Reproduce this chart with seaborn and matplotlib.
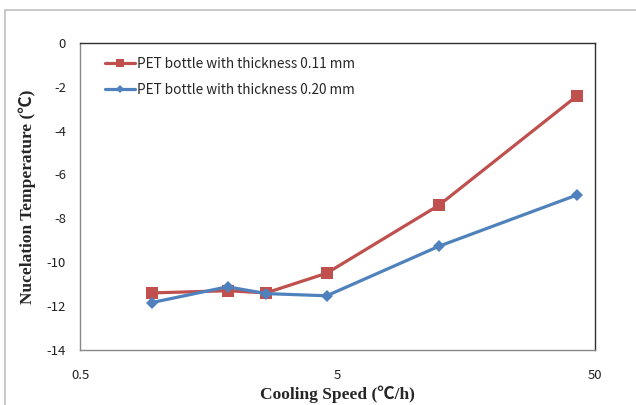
import pandas as pd
import matplotlib
matplotlib.use("Agg")
import matplotlib.pyplot as plt
from matplotlib.patches import Rectangle
from matplotlib.ticker import FixedLocator, FixedFormatter, NullFormatter
import seaborn as sns

# data
speed_thin = [0.95, 1.87, 2.64, 4.54, 12.4, 42.5]
temp_thin = [-11.4, -11.3, -11.4, -10.5, -7.4, -2.43]
speed_thick = [0.95, 1.87, 2.64, 4.54, 12.4, 42.5]
temp_thick = [-11.84, -11.12, -11.43, -11.53, -9.27, -6.94]
series_names = ["PET bottle with thickness 0.11 mm", "PET bottle with thickness 0.20 mm"]

df = pd.concat([
    pd.DataFrame({"speed": speed_thin, "temp": temp_thin, "series": series_names[0]}),
    pd.DataFrame({"speed": speed_thick, "temp": temp_thick, "series": series_names[1]}),
])

sns.set_style("white")
plt.rcParams["axes.unicode_minus"] = False
plt.rcParams["font.family"] = ["Noto Sans CJK KR", "DejaVu Sans"]

fig = plt.figure(figsize=(6.36, 4.05), dpi=100)
ax = fig.add_axes([80 / 636, 55 / 405, 515 / 636, 307.3 / 405])

# outer chart border (Excel chart area)
fig.patches.append(Rectangle((5 / 636, -0.1), 1.2, (395 / 405) + 0.1,
                             transform=fig.transFigure, fill=False,
                             edgecolor="#c0c0c0", linewidth=1.2))

palette = {series_names[0]: "#C0504D", series_names[1]: "#4F81BD"}
sns.lineplot(data=df, x="speed", y="temp", hue="series", style="series",
             markers={series_names[0]: "s", series_names[1]: "D"},
             dashes=False, palette=palette, linewidth=2.3, markersize=8,
             markeredgewidth=0, sort=False, ax=ax)
for line in ax.lines:
    if line.get_marker() == "D":
        line.set_markersize(6.5)

ax.set_xscale("log")
ax.set_xlim(0.5, 50)
ax.set_ylim(-14, 0)
ax.xaxis.set_major_locator(FixedLocator([0.5, 5, 50]))
ax.xaxis.set_major_formatter(FixedFormatter(["0.5", "5", "50"]))
ax.xaxis.set_minor_locator(FixedLocator([0.5 * k for k in range(2, 10)] + [5 * k for k in range(2, 10)]))
ax.xaxis.set_minor_formatter(NullFormatter())
ax.set_yticks(range(-14, 1, 2))

ax.tick_params(axis="x", which="both", direction="in", length=4, color="#888888",
               labelsize=9.5, pad=14, labelcolor="#222222")
ax.tick_params(axis="y", direction="out", length=4, color="#888888",
               labelsize=9.5, pad=6, labelcolor="#222222")

for side in ["left", "bottom"]:
    ax.spines[side].set_color("#888888")
    ax.spines[side].set_linewidth(1.0)
for side in ["top", "right"]:
    ax.spines[side].set_color("#303030")
    ax.spines[side].set_linewidth(1.0)

label_font = dict(family=["Liberation Serif", "Noto Sans CJK KR"], weight="bold", size=12.5)
ax.set_xlabel("Cooling Speed (℃/h)", labelpad=2, **label_font)
ax.set_ylabel("Nucelation Temperature (℃)", labelpad=8, **label_font)

ax.legend(loc="upper left", frameon=False, fontsize=9.8, handlelength=2.2,
          markerscale=0.7, labelspacing=0.9, handletextpad=0.15,
          borderaxespad=0.3, bbox_to_anchor=(0.03, 0.985), title=None)

fig.savefig("out.png", dpi=100)
